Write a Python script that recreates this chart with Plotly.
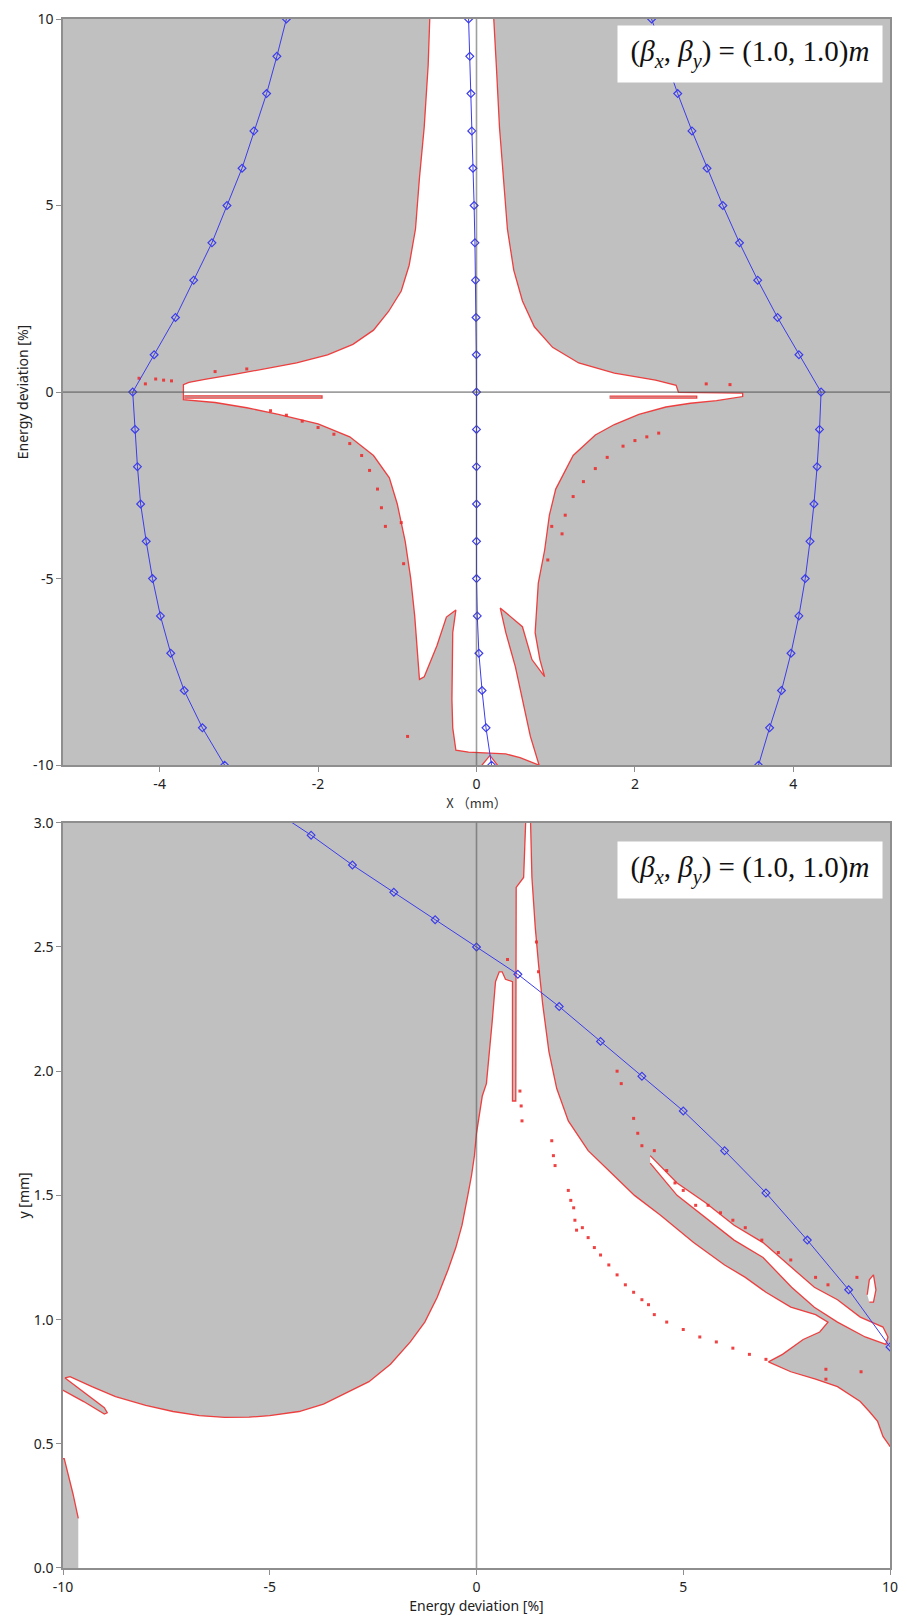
import plotly.graph_objects as go

# ---------------- top panel: X [mm] vs energy deviation [%] ----------------
energy_levels = [10, 9, 8, 7, 6, 5, 4, 3, 2, 1, 0, -1, -2, -3, -4, -5, -6, -7, -8, -9, -10]
x_left_curve = [-2.40, -2.52, -2.65, -2.81, -2.96, -3.15, -3.34, -3.57, -3.80, -4.07, -4.34,
                -4.31, -4.28, -4.24, -4.17, -4.09, -3.99, -3.86, -3.69, -3.46, -3.18]
x_center_curve = [-0.10, -0.085, -0.07, -0.06, -0.045, -0.03, -0.02, -0.012, -0.006, -0.002, 0.0,
                  0.0, 0.0, 0.0, 0.0, 0.0, 0.01, 0.03, 0.07, 0.12, 0.19]
x_right_curve = [2.21, 2.37, 2.54, 2.72, 2.91, 3.11, 3.32, 3.55, 3.80, 4.07, 4.35,
                 4.33, 4.30, 4.26, 4.21, 4.15, 4.07, 3.97, 3.85, 3.70, 3.56]
top_xticks = [-4, -2, 0, 2, 4]
top_xtick_text = ["-4", "-2", "0", "2", "4"]
top_yticks = [-10, -5, 0, 5, 10]
top_ytick_text = ["-10", "-5", "0", "5", "10"]

# stable (white) region boundary
stable_top_x = [-0.59, -0.59, -0.61, -0.66, -0.72, -0.77, -0.85, -0.95, -1.11, -1.30, -1.56, -1.88,
                -2.27, -2.66, -3.04, -3.43, -3.63, -3.70, -3.70, -3.3, -2.9, -2.5, -2.0, -1.6, -1.3,
                -1.1, -1.0, -0.9, -0.83, -0.78, -0.75, -0.72, -0.66, -0.5, -0.38, -0.26, -0.30,
                -0.31, -0.30, -0.26, -0.1, 0.1, 0.37, 0.55, 0.79, 0.68, 0.58, 0.49, 0.37, 0.30, 0.33,
                0.58, 0.70, 0.83, 0.86, 0.80, 0.74, 0.78, 0.86, 0.92, 1.0, 1.22, 1.5, 1.74, 2.05,
                2.39, 2.7, 3.03, 3.36, 3.36, 2.55, 2.52, 2.26, 1.74, 1.29, 0.96, 0.73, 0.58, 0.47,
                0.39, 0.34, 0.29, 0.25, 0.21, 0.21]
stable_top_y = [10.3, 10.0, 8.76, 7.1, 5.74, 4.37, 3.4, 2.71, 2.16, 1.66, 1.28, 1.0,
                0.78, 0.62, 0.48, 0.34, 0.26, 0.2, -0.2, -0.28, -0.42, -0.6, -0.85, -1.2, -1.7,
                -2.3, -3.0, -4.0, -5.0, -6.0, -7.0, -7.7, -7.63, -6.8, -6.03, -5.84, -6.45,
                -8.24, -9.0, -9.6, -9.65, -9.68, -9.7, -9.8, -10.0, -9.23, -8.24, -7.36, -6.45, -5.79, -5.84,
                -6.29, -7.17, -7.52, -7.63, -7.17, -6.45, -5.12, -4.24, -3.3, -2.6, -1.7, -1.15, -0.87, -0.6,
                -0.4, -0.3, -0.23, -0.12, -0.03, -0.01, 0.18, 0.32, 0.51, 0.78, 1.2, 1.75, 2.44, 3.27,
                4.37, 5.74, 7.1, 8.76, 10.0, 10.3]
small_pocket_x = [0.03, 0.17, 0.30]
small_pocket_y = [-10.1, -9.74, -10.1]

# thin unstable slivers along the zero-energy tongue
sliver_left_x = [-3.69, -1.95, -1.95, -3.69]
sliver_left_y = [-0.10, -0.10, -0.16, -0.16]
sliver_right_x = [1.68, 2.78, 2.78, 1.68]
sliver_right_y = [-0.11, -0.11, -0.16, -0.16]

# isolated lost particles
lost_top_x = [-4.26, -4.18, -4.05, -3.95, -3.85, -2.6, -2.4, -2.2, -2.0, -1.8, -1.6, -1.45, -1.35,
              -1.25, -1.2, -1.15, 2.3, 2.15, 2.0, 1.85, 1.65, 1.5, 1.35, 1.22, 1.12, 1.08, -0.87,
              -0.95, -0.92, 0.95, 0.90, -3.3, -2.9, 2.9, 3.2]
lost_top_y = [0.37, 0.22, 0.35, 0.32, 0.30, -0.5, -0.62, -0.78, -0.95, -1.13, -1.38, -1.7, -2.1,
              -2.6, -3.1, -3.6, -1.1, -1.2, -1.3, -1.45, -1.75, -2.05, -2.4, -2.8, -3.3, -3.8, -9.23,
              -3.5, -4.6, -3.6, -4.5, 0.55, 0.62, 0.22, 0.2]

# ---------------- bottom panel: energy deviation [%] vs y [mm] ----------------
energy_pct = [-5, -4, -3, -2, -1, 0, 1, 2, 3, 4, 5, 6, 7, 8, 9, 10]
y_aperture = [3.06, 2.95, 2.83, 2.72, 2.61, 2.50, 2.39, 2.26, 2.12, 1.98, 1.84, 1.68, 1.51, 1.32, 1.12, 0.89]
bot_xticks = [-10, -5, 0, 5, 10]
bot_xtick_text = ["-10", "-5", "0", "5", "10"]
bot_yticks = [0, 0.5, 1.0, 1.5, 2.0, 2.5, 3.0]

stable_bot_x = [-9.63, 10.05, 10.05, 10.0, 9.83, 9.7, 9.5, 9.28, 8.73, 8.2, 7.6, 7.06, 7.4, 7.9, 8.3,
                8.5, 8.2, 7.6, 7.0, 6.5, 6.0, 5.25, 4.45, 3.82, 3.26, 2.70, 2.22, 1.94, 1.75, 1.6,
                1.5, 1.42, 1.34, 1.30, 1.20, 1.14, 0.96, 0.95, 0.87, 0.87, 0.70, 0.62, 0.55, 0.46,
                0.38, 0.30, 0.24, 0.14, 0.0, -0.05, -0.12, -0.21, -0.35, -0.5, -0.69, -0.95, -1.25,
                -1.6, -2.08, -2.6, -3.19, -3.7, -4.29, -5.0, -5.5, -6.09, -6.7, -7.34, -8.0, -8.73,
                -9.3, -9.83, -9.95, -9.6, -9.0, -8.93, -9.0, -9.5, -10.05, -10.05, -9.97, -9.76, -9.63]
stable_bot_y = [-0.05, -0.05, 0.49, 0.49, 0.53, 0.59, 0.63, 0.67, 0.73, 0.76, 0.79, 0.83, 0.86, 0.92, 0.95,
                0.99, 1.02, 1.05, 1.11, 1.17, 1.22, 1.31, 1.42, 1.50, 1.59, 1.68, 1.80, 1.93, 2.08, 2.27,
                2.43, 2.58, 2.78, 3.05, 3.05, 2.78, 2.74, 1.88, 1.88, 2.36, 2.37, 2.40, 2.40, 2.36,
                2.20, 2.07, 1.95, 1.90, 1.75, 1.66, 1.58, 1.50, 1.38, 1.29, 1.20, 1.09, 0.99,
                0.91, 0.82, 0.75, 0.70, 0.66, 0.63, 0.613, 0.607, 0.606, 0.613, 0.63, 0.655, 0.69,
                0.73, 0.77, 0.765, 0.72, 0.645, 0.625, 0.62, 0.67, 0.72, 0.44, 0.44, 0.30, 0.20]

finger_x = [4.2, 4.85, 5.54, 6.23, 6.93, 7.62, 8.17, 8.73, 9.28, 9.83, 9.95,
            9.9, 9.4, 8.73, 8.17, 7.62, 6.93, 6.23, 5.54, 4.85, 4.2]
finger_y = [1.66, 1.55, 1.47, 1.38, 1.31, 1.21, 1.13, 1.08, 1.01, 0.97, 0.93,
            0.90, 0.93, 0.99, 1.05, 1.13, 1.25, 1.32, 1.41, 1.50, 1.63]
pocket_b_x = [9.45, 9.5, 9.6, 9.66, 9.6, 9.5]
pocket_b_y = [1.10, 1.16, 1.18, 1.12, 1.07, 1.07]

lost_bot_x = [2.56, 2.7, 2.85, 3.0, 3.2, 3.4, 3.6, 3.8, 4.0, 4.16,
              4.3, 4.6, 5.0, 5.4, 5.8, 6.2, 6.6, 7.0,
              1.05, 1.08, 1.10, 1.82, 1.86, 1.90, 2.22, 2.28, 2.35, 2.38, 2.42,
              3.8, 3.9, 4.0, 4.3, 4.6, 4.8, 5.0, 5.3,
              5.6, 5.9, 6.2, 6.5, 6.9, 7.3, 7.6, 8.2, 8.5,
              8.45, 8.45, 9.2, 9.3, 0.75, 1.45, 1.5, 3.4, 3.5]
lost_bot_y = [1.37, 1.33, 1.29, 1.26, 1.22, 1.18, 1.14, 1.11, 1.08, 1.06,
              1.02, 0.99, 0.96, 0.93, 0.91, 0.885, 0.86, 0.84,
              1.92, 1.86, 1.80, 1.72, 1.66, 1.62, 1.52, 1.48, 1.45, 1.40, 1.36,
              1.81, 1.75, 1.70, 1.68, 1.60, 1.55, 1.52, 1.46,
              1.46, 1.43, 1.40, 1.37, 1.32, 1.27, 1.24, 1.17, 1.14,
              0.80, 0.76, 1.17, 0.79, 2.45, 2.52, 2.40, 2.00, 1.95]

# ---------------- styling ----------------
GRAY = "#c0c0c0"
RED = "rgba(238,45,45,0.9)"
BLUE = "rgb(60,60,235)"
AXIS = "#8e8e8e"

fig = go.Figure()


def region(x, y, xa, ya, fill="white"):
    fig.add_trace(go.Scatter(x=x, y=y, mode="lines", fill="toself", fillcolor=fill,
                             line=dict(color=RED, width=1.3), xaxis=xa, yaxis=ya,
                             hoverinfo="skip", showlegend=False))


def dots(x, y, xa, ya):
    fig.add_trace(go.Scatter(x=x, y=y, mode="markers", xaxis=xa, yaxis=ya,
                             marker=dict(symbol="square", size=3, color=RED),
                             hoverinfo="skip", showlegend=False))


def aperture(x, y, xa, ya):
    fig.add_trace(go.Scatter(x=x, y=y, mode="lines+markers", xaxis=xa, yaxis=ya,
                             line=dict(color=BLUE, width=1),
                             marker=dict(symbol="diamond-open", size=6, color=BLUE,
                                         line=dict(width=1.2, color=BLUE)),
                             showlegend=False))


# top panel
region(stable_top_x, stable_top_y, "x", "y")
region(small_pocket_x, small_pocket_y, "x", "y")
region(sliver_left_x, sliver_left_y, "x", "y", GRAY)
region(sliver_right_x, sliver_right_y, "x", "y", GRAY)
dots(lost_top_x, lost_top_y, "x", "y")
aperture(x_left_curve, energy_levels, "x", "y")
aperture(x_center_curve, energy_levels, "x", "y")
aperture(x_right_curve, energy_levels, "x", "y")

# bottom panel
region(stable_bot_x, stable_bot_y, "x2", "y2")
region(finger_x, finger_y, "x2", "y2")
region(pocket_b_x, pocket_b_y, "x2", "y2")
dots(lost_bot_x, lost_bot_y, "x2", "y2")
aperture(energy_pct, y_aperture, "x2", "y2")

tick_font = dict(family="Noto Sans, Open Sans, sans-serif", size=14, color="#222")
title_font = dict(family="Noto Sans, Open Sans, sans-serif", size=14, color="#222")
axis_common = dict(showline=True, linecolor=AXIS, linewidth=1.5, mirror=True,
                   ticks="outside", ticklen=5, tickcolor=AXIS, tickwidth=1,
                   showgrid=False, zeroline=False, tickfont=tick_font)

beta_text = ("(<i>β</i><sub><i>x</i></sub>, <i>β</i><sub><i>y</i></sub>) = "
             "(1.0, 1.0)<i>m</i>")
beta_font = dict(family="Liberation Serif, DejaVu Serif, serif", size=29, color="#111")

fig.update_layout(
    width=907, height=1618,
    margin=dict(l=63, r=9, t=15, b=44),
    paper_bgcolor="white", plot_bgcolor=GRAY,
    xaxis=dict(domain=[0, 1], anchor="y", range=[-5.22, 5.22],
               tickvals=top_xticks, ticktext=top_xtick_text,
               title=dict(text="X （mm）", standoff=6,
                          font=dict(family="Noto Sans CJK JP", size=13, color="#333")),
               **axis_common),
    yaxis=dict(domain=[0.5183, 1], anchor="x", range=[-10, 10],
               tickvals=top_yticks, ticktext=top_ytick_text,
               title=dict(text="Energy deviation [%]", standoff=1, font=title_font),
               **axis_common),
    xaxis2=dict(domain=[0, 1], anchor="y2", range=[-10, 10],
                tickvals=bot_xticks, ticktext=bot_xtick_text,
                title=dict(text="Energy deviation [%]", standoff=4, font=title_font),
                **axis_common),
    yaxis2=dict(domain=[0, 0.4811], anchor="x2", range=[0, 3.0],
                tickvals=bot_yticks, tickformat=".1f",
                title=dict(text="y [mm]", standoff=1, font=title_font),
                **axis_common),
    shapes=[
        dict(type="line", xref="x", yref="y domain", x0=0, x1=0, y0=0, y1=1,
             line=dict(color="rgba(80,80,80,0.55)", width=1.6), layer="above"),
        dict(type="line", xref="x domain", yref="y", x0=0, x1=1, y0=0, y1=0,
             line=dict(color="rgba(80,80,80,0.55)", width=1.6), layer="above"),
        dict(type="line", xref="x2", yref="y2 domain", x0=0, x1=0, y0=0, y1=1,
             line=dict(color="rgba(80,80,80,0.55)", width=1.6), layer="above"),
    ],
    annotations=[
        dict(text=beta_text, xref="paper", yref="paper", x=0.8305, y=0.9772,
             xanchor="center", yanchor="middle",
             showarrow=False, bgcolor="white", width=262, height=54, font=beta_font),
        dict(text=beta_text, xref="paper", yref="paper", x=0.8305, y=0.4503,
             xanchor="center", yanchor="middle",
             showarrow=False, bgcolor="white", width=262, height=54, font=beta_font),
    ],
)

fig.write_html("out.html")
